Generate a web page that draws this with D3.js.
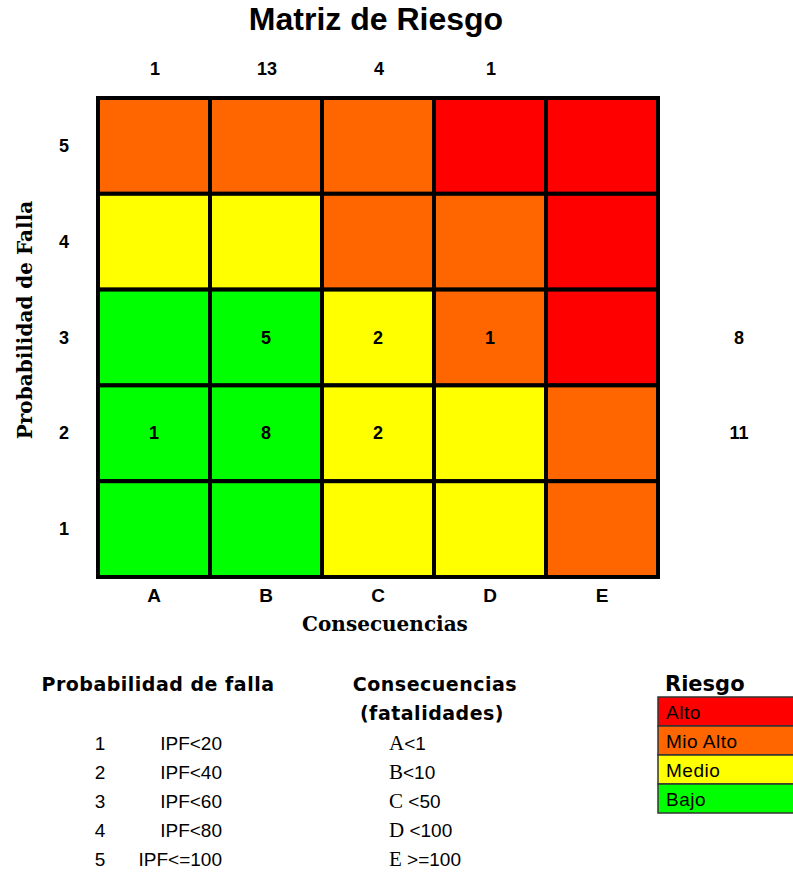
<!DOCTYPE html>
<html>
<head>
<meta charset="utf-8">
<script src="https://cdn.jsdelivr.net/npm/d3@7"></script>
<style>
  body { margin: 0; background: #fff; }
  svg { display: block; }
</style>
</head>
<body>
<svg width="793" height="873"></svg>
<script>
const consequences = ['A', 'B', 'C', 'D', 'E']
const probabilities = [5, 4, 3, 2, 1]

// risk level of each cell, rows from 5 down to 1
const riskGrid = [
	['Mio Alto', 'Mio Alto', 'Mio Alto', 'Alto', 'Alto'],
	['Medio', 'Medio', 'Mio Alto', 'Mio Alto', 'Alto'],
	['Bajo', 'Bajo', 'Medio', 'Mio Alto', 'Alto'],
	['Bajo', 'Bajo', 'Medio', 'Medio', 'Mio Alto'],
	['Bajo', 'Bajo', 'Medio', 'Medio', 'Mio Alto']
]

// counts inside cells
const cellCounts = [
	{ c: 'B', p: 3, n: 5 },
	{ c: 'C', p: 3, n: 2 },
	{ c: 'D', p: 3, n: 1 },
	{ c: 'A', p: 2, n: 1 },
	{ c: 'B', p: 2, n: 8 },
	{ c: 'C', p: 2, n: 2 }
]

const columnTotals = [
	{ c: 'A', n: 1 },
	{ c: 'B', n: 13 },
	{ c: 'C', n: 4 },
	{ c: 'D', n: 1 }
]
const rowTotals = [
	{ p: 3, n: 8 },
	{ p: 2, n: 11 }
]

const riskLevels = ['Alto', 'Mio Alto', 'Medio', 'Bajo']
const riskColors = ['#ff0000', '#ff6600', '#ffff00', '#00ff00']

const probLegend = ['IPF<20', 'IPF<40', 'IPF<60', 'IPF<80', 'IPF<=100']
const consLegend = [['A', '<1'], ['B', '<10'], ['C', ' <50'], ['D', ' <100'], ['E', ' >=100']]

let svg = d3.select('svg')
const sans = '"Liberation Sans", Arial, sans-serif'
const serif = '"Liberation Serif", "Times New Roman", serif'
const wideSerif = '"DejaVu Serif", Georgia, serif'
const wide = '"DejaVu Sans", Verdana, sans-serif'

const color = d3.scaleOrdinal().domain(riskLevels).range(riskColors)

const x = d3.scaleBand().domain(consequences).range([98, 658])
const y = d3.scaleBand().domain(probabilities).range([98, 577])

// title
svg.append('text')
	.attr('x', 376).attr('y', 30)
	.attr('text-anchor', 'middle')
	.style('font', 'bold 32px ' + sans)
	.text('Matriz de Riesgo')

// cells
const cells = []
probabilities.forEach((p, i) => {
	consequences.forEach((c, j) => cells.push({ c, p, risk: riskGrid[i][j] }))
})

svg.append('g')
	.selectAll('rect')
	.data(cells)
	.join('rect')
	.attr('x', d => x(d.c))
	.attr('y', d => y(d.p))
	.attr('width', x.bandwidth())
	.attr('height', y.bandwidth())
	.attr('fill', d => color(d.risk))
	.attr('stroke', '#000')
	.attr('stroke-width', 4)

svg.append('rect')
	.attr('x', 98).attr('y', 98)
	.attr('width', 560).attr('height', 479)
	.attr('fill', 'none')
	.attr('stroke', '#000')
	.attr('stroke-width', 4)

// numbers in cells
svg.append('g')
	.selectAll('text')
	.data(cellCounts)
	.join('text')
	.attr('x', d => x(d.c) + x.bandwidth() / 2)
	.attr('y', d => y(d.p) + y.bandwidth() / 2 + 6)
	.attr('text-anchor', 'middle')
	.style('font', 'bold 18px ' + sans)
	.text(d => d.n)

// column totals
svg.append('g')
	.selectAll('text')
	.data(columnTotals)
	.join('text')
	.attr('x', d => x(d.c) + x.bandwidth() / 2 + 1)
	.attr('y', 75)
	.attr('text-anchor', 'middle')
	.style('font', 'bold 18px ' + sans)
	.text(d => d.n)

// row totals
svg.append('g')
	.selectAll('text')
	.data(rowTotals)
	.join('text')
	.attr('x', 739)
	.attr('y', d => y(d.p) + y.bandwidth() / 2 + 6)
	.attr('text-anchor', 'middle')
	.style('font', 'bold 18px ' + sans)
	.text(d => d.n)

// axis labels
svg.append('g')
	.selectAll('text')
	.data(probabilities)
	.join('text')
	.attr('x', 64)
	.attr('y', d => y(d) + y.bandwidth() / 2 + 6)
	.attr('text-anchor', 'middle')
	.style('font', 'bold 18px ' + sans)
	.text(d => d)

svg.append('g')
	.selectAll('text')
	.data(consequences)
	.join('text')
	.attr('x', d => x(d) + x.bandwidth() / 2)
	.attr('y', 602)
	.attr('text-anchor', 'middle')
	.style('font', 'bold 19px ' + sans)
	.text(d => d)

svg.append('text')
	.attr('x', 385).attr('y', 631)
	.attr('text-anchor', 'middle')
	.style('font', 'bold 20px ' + wideSerif)
	.text('Consecuencias')

svg.append('text')
	.attr('transform', 'translate(32,320) rotate(-90)')
	.attr('text-anchor', 'middle')
	.style('font', 'bold 20px ' + wideSerif)
	.text('Probabilidad de Falla')

// legend: probabilidad
svg.append('text')
	.attr('x', 158).attr('y', 691)
	.attr('text-anchor', 'middle')
	.style('font', 'bold 19px ' + wide)
	.style('letter-spacing', '0.5px')
	.text('Probabilidad de falla')

const probG = svg.append('g').style('font', '19px ' + sans)
probG.selectAll('.num')
	.data(probLegend)
	.join('text')
	.attr('class', 'num')
	.attr('x', 100)
	.attr('y', (d, i) => 750 + i * 29)
	.attr('text-anchor', 'middle')
	.text((d, i) => i + 1)
probG.selectAll('.ipf')
	.data(probLegend)
	.join('text')
	.attr('class', 'ipf')
	.attr('x', 222)
	.attr('y', (d, i) => 750 + i * 29)
	.attr('text-anchor', 'end')
	.text(d => d)

// legend: consecuencias
svg.append('text')
	.attr('x', 435).attr('y', 691)
	.attr('text-anchor', 'middle')
	.style('font', 'bold 19px ' + wide)
	.style('letter-spacing', '0.5px')
	.text('Consecuencias')
svg.append('text')
	.attr('x', 432).attr('y', 720)
	.attr('text-anchor', 'middle')
	.style('font', 'bold 19px ' + wide)
	.style('letter-spacing', '0.5px')
	.text('(fatalidades)')

const consText = svg.append('g')
	.selectAll('text')
	.data(consLegend)
	.join('text')
	.attr('x', 389)
	.attr('y', (d, i) => 750 + i * 29)
	.style('white-space', 'pre')
consText.append('tspan')
	.style('font', '21px ' + serif)
	.text(d => d[0])
consText.append('tspan')
	.style('font', '19px ' + sans)
	.text(d => d[1])

// legend: riesgo
svg.append('text')
	.attr('x', 665).attr('y', 691)
	.style('font', 'bold 21px ' + wide)
	.text('Riesgo')

const riskG = svg.append('g')
	.selectAll('g')
	.data(riskLevels)
	.join('g')
	.attr('transform', (d, i) => `translate(658,${697 + i * 29})`)
riskG.append('rect')
	.attr('width', 140)
	.attr('height', 29)
	.attr('fill', d => color(d))
	.attr('stroke', '#333')
	.attr('stroke-width', 1.5)
riskG.append('text')
	.attr('x', 8)
	.attr('y', 22)
	.style('font', '19px ' + sans)
	.style('letter-spacing', '0.5px')
	.text(d => d)
</script>
</body>
</html>
